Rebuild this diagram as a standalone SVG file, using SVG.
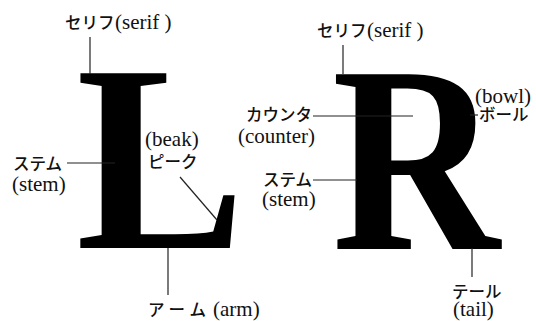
<svg xmlns="http://www.w3.org/2000/svg" width="536" height="321" viewBox="0 0 536 321">
<style>
.lbl{font-family:"Liberation Serif",serif;font-size:21px;fill:#111}
.jp{font-family:"Noto Sans CJK JP",sans-serif;font-size:16.5px;font-weight:500;fill:#111}
.big{font-family:"Liberation Serif",serif;font-weight:700;font-size:267px;fill:#000}
.ln{stroke:#222;stroke-width:1.2;fill:none}
</style>
<rect width="536" height="321" fill="#fff"/>
<g id="letter-L"><text class="big" transform="translate(76,248) scale(0.95,1)" x="0" y="0">L</text></g>
<g id="letter-R"><text class="big" transform="translate(332,249) scale(0.87,1)" x="0" y="0">R</text></g>
<g id="connectors">
<line class="ln" x1="90" y1="37" x2="90" y2="74"/>
<line class="ln" x1="343" y1="45" x2="343" y2="74"/>
<line class="ln" x1="67" y1="163" x2="115" y2="163"/>
<line class="ln" x1="180" y1="177" x2="217" y2="220"/>
<line class="ln" x1="313" y1="116" x2="413" y2="116"/>
<line class="ln" x1="313" y1="180" x2="357" y2="180"/>
<line class="ln" x1="470" y1="115" x2="478" y2="115"/>
<line class="ln" x1="168" y1="248" x2="168" y2="295"/>
<line class="ln" x1="472" y1="248" x2="472" y2="277"/>
</g>
<g id="serif-L"><text class="jp" x="65" y="29">セリフ</text><text class="lbl" x="115" y="29">(serif )</text></g>
<g id="serif-R"><text class="jp" x="317" y="37">セリフ</text><text class="lbl" x="367" y="37">(serif )</text></g>
<g id="stem-L"><text class="jp" x="13" y="170">ステム</text><text class="lbl" x="12" y="191">(stem)</text></g>
<g id="beak"><text class="lbl" x="145" y="146">(beak)</text><text class="jp" x="148" y="168">ピーク</text></g>
<g id="counter"><text class="jp" x="246" y="121">カウンタ</text><text class="lbl" x="238" y="143">(counter)</text></g>
<g id="stem-R"><text class="jp" x="263" y="186">ステム</text><text class="lbl" x="262" y="206">(stem)</text></g>
<g id="bowl"><text class="lbl" x="475" y="103">(bowl)</text><text class="jp" x="479" y="121">ボール</text></g>
<g id="arm"><text class="jp" x="148" y="316" font-size="19" letter-spacing="5">アーム</text><text class="lbl" x="213" y="316" font-size="23">(arm)</text></g>
<g id="tail"><text class="jp" x="452" y="298">テール</text><text class="lbl" x="453" y="316">(tail)</text></g>
</svg>
